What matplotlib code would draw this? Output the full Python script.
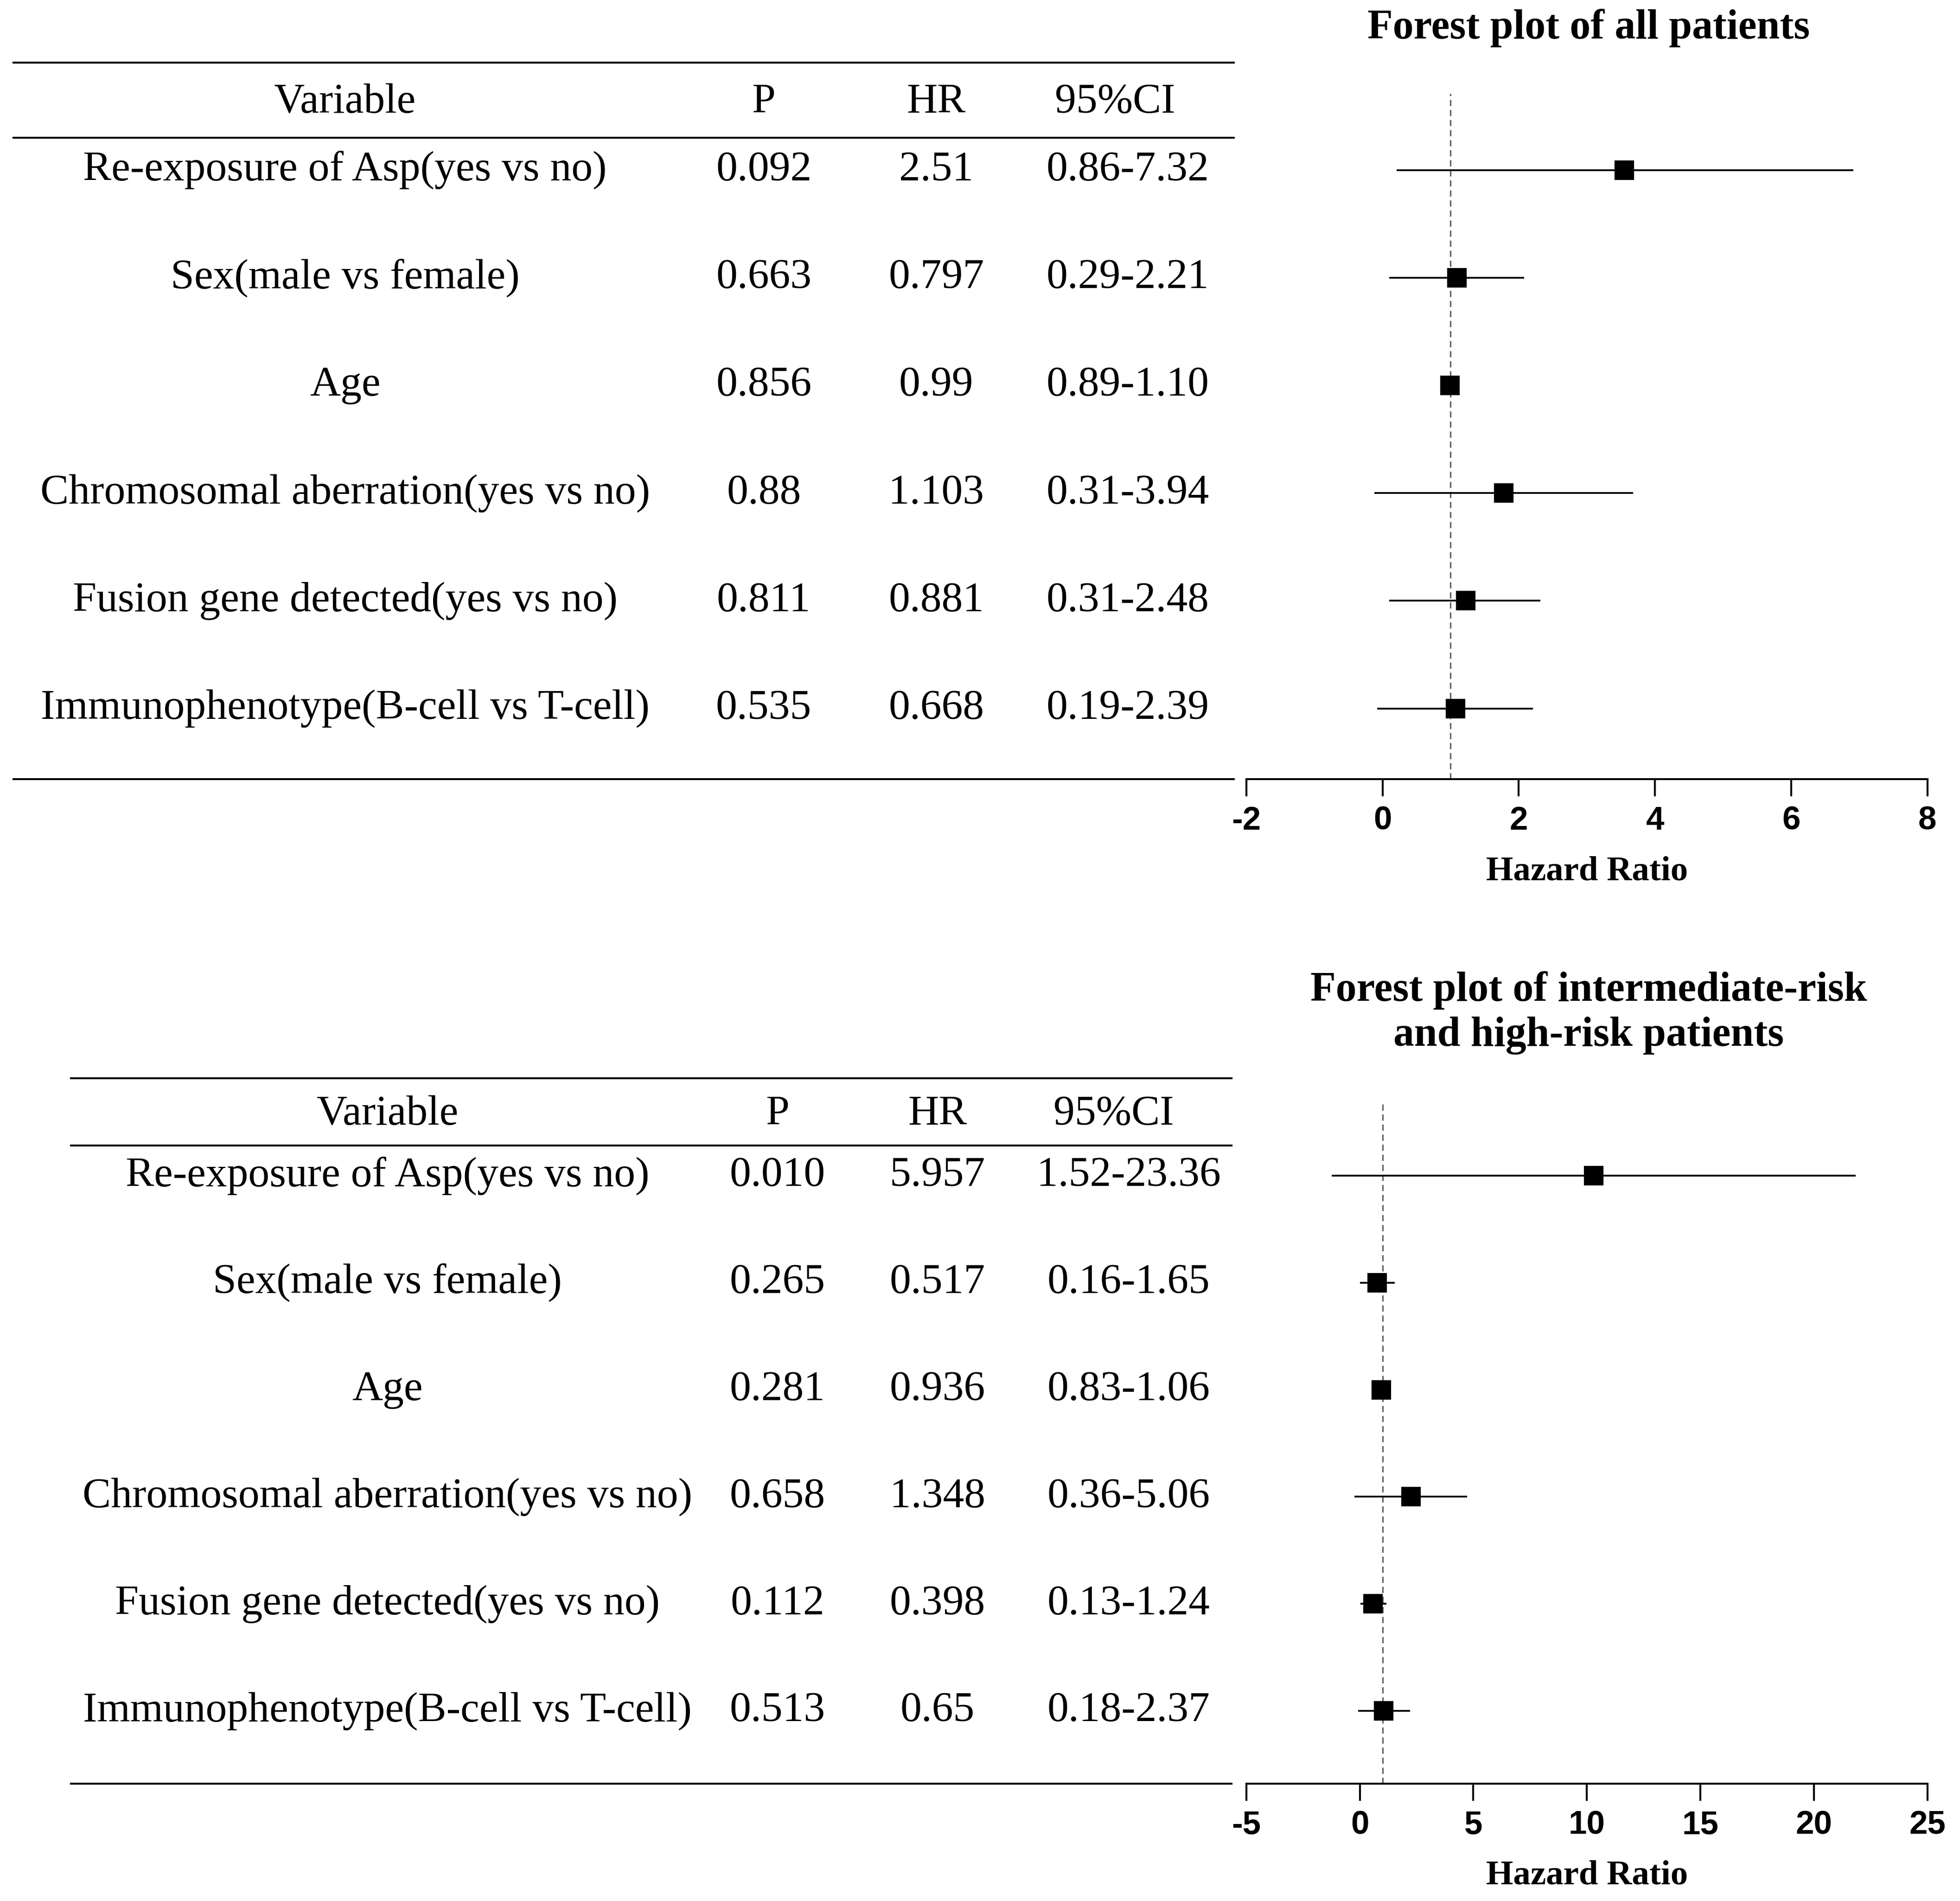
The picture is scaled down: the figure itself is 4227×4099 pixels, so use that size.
import matplotlib
matplotlib.use('Agg')
import matplotlib.pyplot as plt

plt.rcParams['axes.unicode_minus'] = False

# layout grid (in "reference" units, the picture is 4227x4099 px)
W, H = 1568, 1520
SERIF = 'Liberation Serif'
SANS = 'Liberation Sans'

variables = ['Re-exposure of Asp(yes vs no)', 'Sex(male vs female)', 'Age',
             'Chromosomal aberration(yes vs no)', 'Fusion gene detected(yes vs no)',
             'Immunophenotype(B-cell vs T-cell)']
headers = ['Variable', 'P', 'HR', '95%CI']

# all patients
all_p = ['0.092', '0.663', '0.856', '0.88', '0.811', '0.535']
all_hr = ['2.51', '0.797', '0.99', '1.103', '0.881', '0.668']
all_ci = ['0.86-7.32', '0.29-2.21', '0.89-1.10', '0.31-3.94', '0.31-2.48', '0.19-2.39']
# positions as drawn in the forest plot
all_est = [3.55, 1.09, 0.99, 1.78, 1.22, 1.07]
all_lo = [0.21, 0.10, 0.93, -0.12, 0.10, -0.08]
all_hi = [6.91, 2.08, 1.05, 3.68, 2.32, 2.21]
all_ticks = [-2, 0, 2, 4, 6, 8]

# intermediate-risk and high-risk patients
ihr_p = ['0.010', '0.265', '0.281', '0.658', '0.112', '0.513']
ihr_hr = ['5.957', '0.517', '0.936', '1.348', '0.398', '0.65']
ihr_ci = ['1.52-23.36', '0.16-1.65', '0.83-1.06', '0.36-5.06', '0.13-1.24', '0.18-2.37']
ihr_est = [10.31, 0.76, 0.95, 2.26, 0.58, 1.05]
ihr_lo = [-1.23, 0.0, 0.85, -0.23, 0.02, -0.08]
ihr_hi = [21.83, 1.54, 1.05, 4.73, 1.17, 2.22]
ihr_ticks = [-5, 0, 5, 10, 15, 20, 25]


def draw_table(ax0, lay, p, hr, ci):
    x0, x1 = lay['rule_x']
    for y in lay['rules']:
        ax0.plot([x0, x1], [y, y], color='black', lw=1.0, solid_capstyle='butt')
    hx = [lay['var_x'], lay['p_x'], lay['hr_x'], lay['ci_head_x']]
    for x, s in zip(hx, headers):
        ax0.text(x, lay['head_y'], s, ha='center', va='center', fontsize=22, family=SERIF)
    for i in range(len(variables)):
        y = lay['row0'] + lay['step'] * i
        for x, s in zip([lay['var_x'], lay['p_x'], lay['hr_x'], lay['ci_x']],
                        [variables[i], p[i], hr[i], ci[i]]):
            ax0.text(x, y, s, ha='center', va='center', fontsize=22, family=SERIF)


def draw_forest(fig, lay, est, lo, hi, ticks):
    top, bottom = lay['ax_top'], lay['ax_bottom']
    ax = fig.add_axes([997 / W, 1 - bottom / H, (1542 - 997) / W, (bottom - top) / H])
    ax.set_facecolor('none')
    rows = list(range(len(est)))
    ax.set_ylim((bottom - lay['row0']) / lay['step'], (top - lay['row0']) / lay['step'])
    ax.set_xlim(ticks[0], ticks[-1])
    ax.axvline(1, color='#666666', lw=0.8, ls=(0, (4, 2.5)), zorder=1)
    ax.hlines(rows, lo, hi, color='black', lw=0.9, zorder=2)
    ax.plot(est, rows, 's', color='black', ms=9, zorder=3)
    for side in ['top', 'right', 'left']:
        ax.spines[side].set_visible(False)
    ax.spines['bottom'].set_linewidth(1.0)
    ax.set_yticks([])
    ax.set_xticks(ticks)
    ax.tick_params(axis='x', direction='out', length=8.8, width=1.0, pad=5)
    for lab in ax.get_xticklabels():
        lab.set_fontfamily(SANS)
        lab.set_fontweight('bold')
        lab.set_fontsize(17)
    ax.set_xlabel('Hazard Ratio', fontsize=18, fontweight='bold', family=SERIF, labelpad=10)
    return ax


fig = plt.figure(figsize=(4227 / 300, 4099 / 300), dpi=300)
ax0 = fig.add_axes([0, 0, 1, 1])
ax0.set_xlim(0, W)
ax0.set_ylim(H, 0)
ax0.axis('off')

top_lay = dict(rule_x=(10, 988), rules=[50, 110, 623], head_y=82, row0=136, step=86.1,
               var_x=276, p_x=611, hr_x=749, ci_head_x=892, ci_x=902,
               ax_top=75, ax_bottom=623)
bot_lay = dict(rule_x=(56, 986), rules=[862, 916, 1426], head_y=891, row0=940, step=85.6,
               var_x=310, p_x=622, hr_x=750, ci_head_x=891, ci_x=903,
               ax_top=880, ax_bottom=1426)

draw_table(ax0, top_lay, all_p, all_hr, all_ci)
draw_table(ax0, bot_lay, ihr_p, ihr_hr, ihr_ci)

ax0.text(1271, 22.5, 'Forest plot of all patients', ha='center', va='center',
         fontsize=21.5, fontweight='bold', family=SERIF)
ax0.text(1271, 792, 'Forest plot of intermediate-risk', ha='center', va='center',
         fontsize=21.5, fontweight='bold', family=SERIF)
ax0.text(1271, 828, 'and high-risk patients', ha='center', va='center',
         fontsize=21.5, fontweight='bold', family=SERIF)

draw_forest(fig, top_lay, all_est, all_lo, all_hi, all_ticks)
draw_forest(fig, bot_lay, ihr_est, ihr_lo, ihr_hi, ihr_ticks)

fig.savefig('out.png', dpi=300, facecolor='white')
